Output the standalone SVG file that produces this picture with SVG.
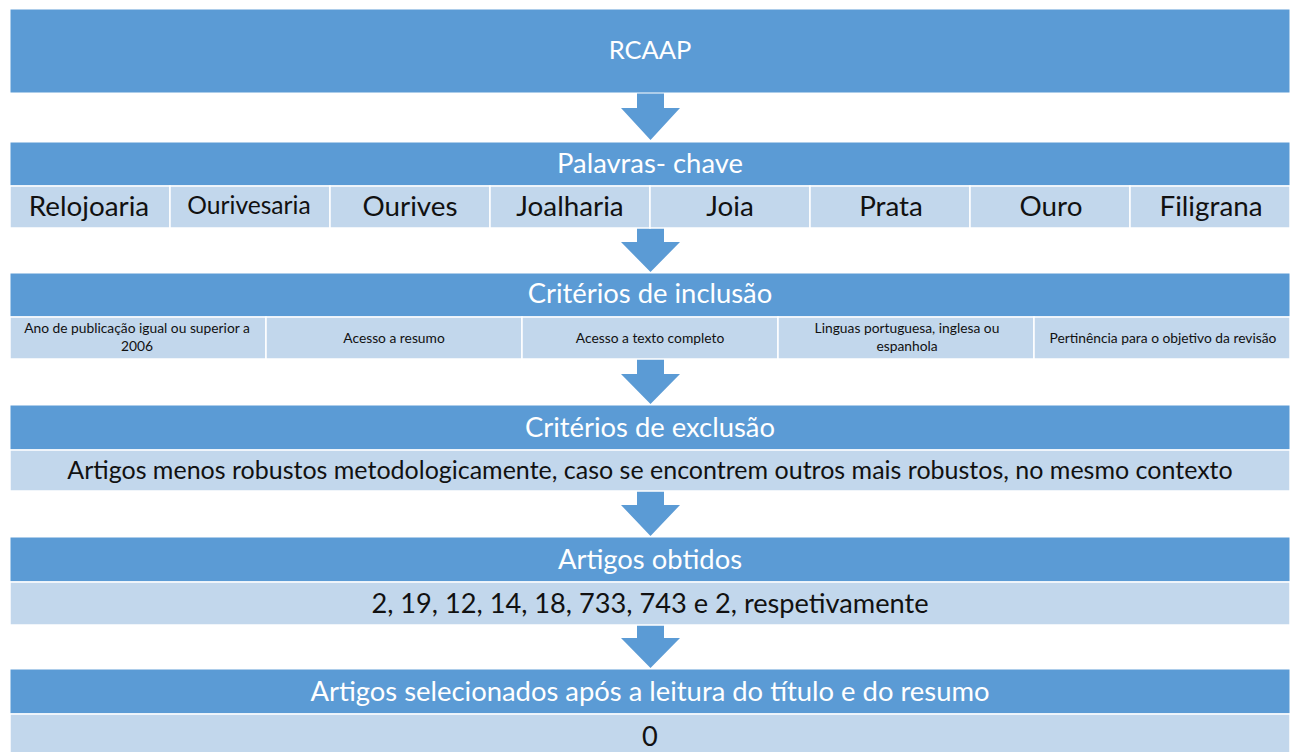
<svg xmlns="http://www.w3.org/2000/svg" width="1292" height="752" viewBox="0 0 1292 752">
<style>
.hdr{fill:#5B9BD5;stroke:#ffffff;stroke-width:1}
.row{fill:#C2D7EC;stroke:#ffffff;stroke-width:1.5}
.ht{font-family:Lato,"Open Sans",sans-serif;fill:#ffffff;text-anchor:middle;font-size:27.4px}
.rt{font-family:Lato,"Open Sans",sans-serif;fill:#111111;text-anchor:middle;font-size:27.2px}
.kw{font-family:Lato,"Open Sans",sans-serif;fill:#111111;text-anchor:middle;font-size:27.8px}
.st{font-family:Lato,"Open Sans",sans-serif;fill:#111111;text-anchor:middle;font-size:13.8px}
.arr{fill:#5B9BD5}
</style>
<rect width="1292" height="752" fill="#ffffff"/>
<g id="connectors">
<polygon class="arr" points="637,93 664,93 664,108 680,108 650.5,140 621,108 637,108"/>
<polygon class="arr" points="637,228 664,228 664,242 680,242 650.5,272 621,242 637,242"/>
<polygon class="arr" points="637,359 664,359 664,374 680,374 650.5,404 621,374 637,374"/>
<polygon class="arr" points="637,491 664,491 664,505 680,505 650.5,536 621,505 637,505"/>
<polygon class="arr" points="637,625 664,625 664,638 680,638 650.5,668 621,638 637,638"/>
</g>
<g id="rcaap">
<rect class="hdr" x="10" y="9" width="1280" height="84"/>
<text class="ht" x="650" y="59" style="font-size:25.5px">RCAAP</text>
</g>
<g id="palavras-chave">
<rect class="hdr" x="10" y="142" width="1280" height="44"/>
<text class="ht" x="650" y="173">Palavras- chave</text>
<rect class="row" x="10" y="186" width="160" height="42"/>
<rect class="row" x="170" y="186" width="160" height="42"/>
<rect class="row" x="330" y="186" width="160" height="42"/>
<rect class="row" x="490" y="186" width="160" height="42"/>
<rect class="row" x="650" y="186" width="160" height="42"/>
<rect class="row" x="810" y="186" width="160" height="42"/>
<rect class="row" x="970" y="186" width="160" height="42"/>
<rect class="row" x="1130" y="186" width="160" height="42"/>
<text class="kw" x="89" y="216">Relojoaria</text>
<text class="kw" x="249" y="214" style="font-size:24.6px">Ourivesaria</text>
<text class="kw" x="410" y="216">Ourives</text>
<text class="kw" x="570" y="216">Joalharia</text>
<text class="kw" x="730" y="216">Joia</text>
<text class="kw" x="891" y="216">Prata</text>
<text class="kw" x="1051" y="216">Ouro</text>
<text class="kw" x="1211" y="216">Filigrana</text>
</g>
<g id="inclusao">
<rect class="hdr" x="10" y="273" width="1280" height="44"/>
<text class="ht" x="650" y="303">Critérios de inclusão</text>
<rect class="row" x="10" y="317" width="256" height="42"/>
<rect class="row" x="266" y="317" width="256" height="42"/>
<rect class="row" x="522" y="317" width="256" height="42"/>
<rect class="row" x="778" y="317" width="256" height="42"/>
<rect class="row" x="1034" y="317" width="256" height="42"/>
<text class="st" x="137" y="333">Ano de publicação igual ou superior a</text>
<text class="st" x="137" y="351">2006</text>
<text class="st" x="394" y="343">Acesso a resumo</text>
<text class="st" x="650" y="343">Acesso a texto completo</text>
<text class="st" x="907" y="333">Linguas portuguesa, inglesa ou</text>
<text class="st" x="907" y="351">espanhola</text>
<text class="st" x="1163" y="343">Pertinência para o objetivo da revisão</text>
</g>
<g id="exclusao">
<rect class="hdr" x="10" y="405" width="1280" height="45"/>
<text class="ht" x="650" y="437">Critérios de exclusão</text>
<rect class="row" x="10" y="450" width="1280" height="41"/>
<text class="rt" x="650" y="479" style="font-size:25px">Artigos menos robustos metodologicamente, caso se encontrem outros mais robustos, no mesmo contexto</text>
</g>
<g id="obtidos">
<rect class="hdr" x="10" y="537" width="1280" height="45"/>
<text class="ht" x="650" y="569">Artigos obtidos</text>
<rect class="row" x="10" y="582" width="1280" height="43"/>
<text class="rt" x="650" y="613">2, 19, 12, 14, 18, 733, 743 e 2, respetivamente</text>
</g>
<g id="selecionados">
<rect class="hdr" x="10" y="669" width="1280" height="45"/>
<text class="ht" x="650" y="701">Artigos selecionados após a leitura do título e do resumo</text>
<rect class="row" x="10" y="714" width="1280" height="42"/>
<text class="rt" x="650" y="746">0</text>
</g>
</svg>
